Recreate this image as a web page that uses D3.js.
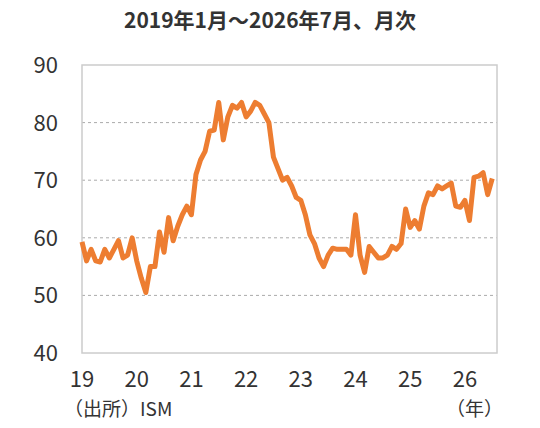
<!DOCTYPE html>
<html><head><meta charset="utf-8">
<script src="https://cdn.jsdelivr.net/npm/d3@7"></script>
<style>body{margin:0;background:#fff;font-family:"Noto Sans CJK JP","Noto Sans",sans-serif;}</style>
</head><body><svg width="540" height="428"></svg>
<script>
var startYear = 2019;
var values = [59.3,56,58,56,55.8,58,56.5,58,59.5,56.5,57,60,
  56,53,50.5,55,55,61,57.5,63.5,59.5,62,64,65.5,
  64,71,73.5,75,78.5,78.7,83.5,77,81,83,82.5,83.5,
  81,82,83.5,83,81.5,80,74,72,70,70.5,69,67,
  66.5,64,60.5,59,56.5,55,57,58.2,58,58,58,57,
  64,57,54,58.5,57.5,56.5,56.5,57,58.5,58,59,65,
  61.8,63,61.5,65.5,67.8,67.5,69,68.5,69,69.5,65.5,65.3,
  66.5,63,70.5,70.7,71.3,67.5,70.3];
var yTicks = [40,50,60,70,80,90];
var xTickLabels = ["19","20","21","22","23","24","25","26"];

var svg = d3.select("svg");
var pLeft = 82, pRight = 497, pTop = 65, pBottom = 353;
var x = d3.scaleLinear().domain([0, 7.5]).range([pLeft, pLeft + 7.5*54.7]);
var y = d3.scaleLinear().domain([40, 90]).range([pBottom, pTop]);

svg.append("text").attr("x", 270).attr("y", 28).attr("text-anchor", "middle")
  .attr("font-size", 21).attr("fill", "#333").attr("font-weight", "bold")
  .text("2019年1月～2026年7月、月次");

svg.selectAll(".grid").data([50,60,70,80]).enter().append("line")
  .attr("x1", pLeft).attr("x2", pRight).attr("y1", d => y(d)).attr("y2", d => y(d))
  .attr("stroke", "#aaa").attr("stroke-dasharray", "3,3");

svg.append("rect").attr("x", pLeft).attr("y", pTop).attr("width", pRight-pLeft).attr("height", pBottom-pTop)
  .attr("fill", "none").attr("stroke", "#ccc").attr("stroke-width", 1.5);

svg.selectAll(".yt").data(yTicks).enter().append("text")
  .attr("x", 58).attr("y", d => y(d) + 8).attr("text-anchor", "end")
  .attr("font-size", 22).attr("fill", "#333").text(d => d);

svg.selectAll(".xt").data(xTickLabels).enter().append("text")
  .attr("x", (d, i) => x(i)).attr("y", 387).attr("text-anchor", "middle")
  .attr("font-size", 22).attr("fill", "#333").text(d => d);

svg.append("text").attr("x", 64).attr("y", 416).attr("font-size", 19).attr("fill", "#333").text("（出所）ISM");
svg.append("text").attr("x", 446).attr("y", 416).attr("font-size", 19).attr("fill", "#333").text("（年）");

var line = d3.line().x((d, i) => x(i/12)).y(d => y(d));
svg.append("path").datum(values).attr("d", line).attr("fill", "none")
  .attr("stroke", "#ED7D31").attr("stroke-width", 5).attr("stroke-linejoin", "round");
</script></body></html>
